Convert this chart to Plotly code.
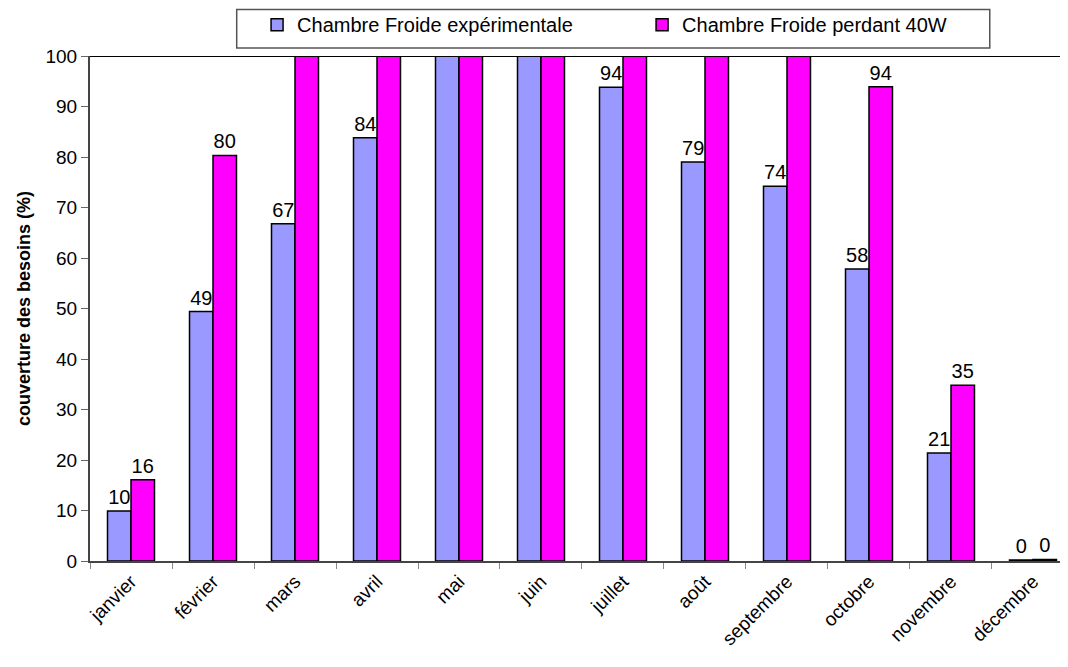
import plotly.graph_objects as go

months = ["janvier", "février", "mars", "avril", "mai", "juin", "juillet",
          "août", "septembre", "octobre", "novembre", "décembre"]
experimentale = [9.9, 49.4, 66.8, 83.8, 100, 100, 93.8, 79.0, 74.2, 57.8, 21.4, 0.2]
perdant_40w = [16.1, 80.3, 100, 100, 100, 100, 100, 100, 100, 93.9, 34.8, 0.3]


def labels(vals):
    # Excel-like labels, hidden for bars stuck at 100
    return ["" if v >= 100 else f"{v:.0f}" for v in vals]


FONT = "Liberation Sans, Arial, sans-serif"

fig = go.Figure()
fig.add_trace(go.Bar(
    x=months, y=experimentale, name="Chambre Froide expérimentale",
    marker=dict(color="#9999FF", line=dict(color="black", width=1.5)),
    text=labels(experimentale), textposition="outside", cliponaxis=False,
    constraintext="none", textfont=dict(size=20, color="black"),
))
fig.add_trace(go.Bar(
    x=months, y=perdant_40w, name="Chambre Froide perdant 40W",
    marker=dict(color="#FF00FF", line=dict(color="black", width=1.5)),
    text=labels(perdant_40w), textposition="outside", cliponaxis=False,
    constraintext="none", textfont=dict(size=20, color="black"),
))

# page has an 8px body margin, so everything is offset by that
fig.update_layout(
    width=1068, height=667,
    margin=dict(l=82, r=8, t=48, b=114),
    paper_bgcolor="white", plot_bgcolor="white",
    font=dict(family=FONT, size=18, color="black"),
    barmode="group", bargap=0.427, bargroupgap=0,
    showlegend=True,
    legend=dict(
        orientation="h", xref="container", yref="container",
        x=0.5937, xanchor="center", y=0.975, yanchor="middle",
        font=dict(size=20), bgcolor="rgba(0,0,0,0)",
        entrywidth=340, itemwidth=30,
    ),
)
fig.update_xaxes(
    range=[-0.5, 11.427], showline=True, linecolor="#444", linewidth=2,
    tickson="boundaries", ticks="outside", ticklen=6, tickcolor="#888",
    tickangle=-45, showgrid=False, tickfont=dict(size=19), automargin=False,
)
fig.update_yaxes(
    range=[0, 100], dtick=10, showline=True, linecolor="#444", linewidth=2,
    ticks="outside", ticklen=7, tickcolor="#666", showgrid=False, zeroline=False,
    tickfont=dict(size=19), automargin=False,
    title=dict(text="<b>couverture des besoins (%)</b>", font=dict(size=18), standoff=10),
)
# top border of the plot area
fig.add_shape(type="line", xref="paper", yref="y", x0=0, x1=1, y0=100, y1=100,
              line=dict(color="black", width=2))
# legend frame
fig.add_shape(type="rect", xref="paper", yref="paper", x0=0.150, x1=0.920,
              y0=1.016, y1=1.092, line=dict(color="#555", width=1.5))

fig.write_html("out.html")
